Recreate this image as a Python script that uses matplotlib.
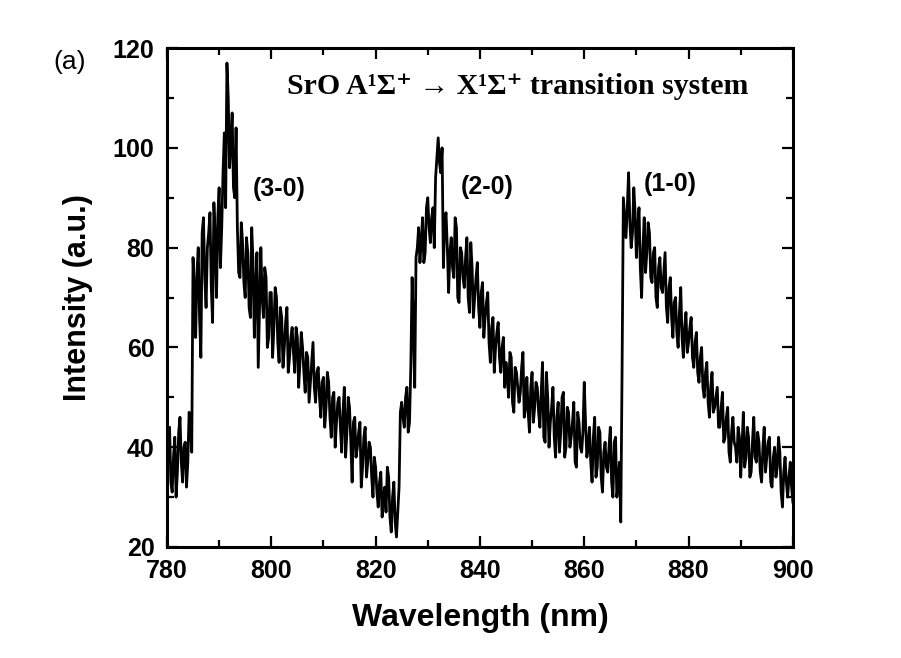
import numpy as np
import matplotlib.pyplot as plt

# SrO A-X emission spectrum.
# intensity: values at 780.0, 780.5, ... 900.0 nm
# intensity_mid: values in between, at 780.25, 780.75, ... 899.75 nm
wl_start = 780.0
wl_step = 0.25
intensity = [
    36, 44, 31, 42, 35, 46, 33, 41, 37, 45, 78, 62, 80, 58, 86, 68, 83, 72, 89, 70,
    92, 84, 103, 117, 96, 107, 90, 84, 74, 81, 70, 79, 66, 77, 72, 56, 80, 66, 74, 62,
    71, 64, 70, 57, 66, 60, 68, 58, 64, 55, 62, 57, 60, 51, 58, 53, 61, 49, 56, 46,
    54, 48, 53, 42, 51, 45, 50, 39, 52, 43, 48, 33, 46, 40, 45, 36, 44, 37, 40, 30,
    36, 28, 35, 30, 27, 34, 23, 33, 22, 32, 49, 44, 52, 45, 74, 52, 80, 77, 86, 79,
    90, 81, 88, 94, 102, 95, 76, 87, 71, 82, 74, 84, 69, 79, 72, 82, 67, 76, 70, 77,
    64, 73, 66, 71, 57, 66, 60, 65, 55, 62, 57, 50, 58, 47, 55, 49, 56, 46, 54, 43,
    55, 48, 52, 44, 57, 41, 50, 45, 52, 38, 49, 43, 51, 40, 47, 42, 49, 36, 45, 39,
    53, 38, 44, 33, 46, 36, 43, 31, 41, 35, 44, 30, 42, 33, 25, 90, 82, 95, 80, 92,
    78, 88, 70, 86, 79, 83, 73, 80, 68, 78, 71, 79, 65, 74, 62, 70, 60, 72, 58, 67,
    61, 66, 56, 63, 53, 60, 50, 57, 46, 55, 48, 52, 44, 51, 42, 48, 37, 46, 40, 44,
    34, 47, 38, 42, 35, 46, 37, 41, 33, 44, 38, 42, 32, 40, 36, 39, 28, 38, 30, 37, 29,
]
intensity_mid = [
    40, 33, 38, 30, 43, 37, 40, 32, 47, 39, 72, 75, 66, 83, 74, 80, 87, 65, 82, 86,
    76, 95, 88, 110, 101, 92, 104, 75, 85, 73, 82, 68, 84, 62, 79, 68, 70, 76, 60, 71,
    58, 72, 61, 68, 56, 65, 55, 62, 59, 64, 52, 63, 55, 59, 49, 57, 52, 55, 50, 53,
    44, 55, 46, 50, 40, 49, 44, 47, 38, 50, 41, 45, 38, 43, 32, 42, 34, 41, 34, 38,
    31, 33, 26, 32, 36, 26, 30, 25, 27, 47, 46, 50, 43, 56, 64, 78, 84, 81, 77, 88,
    84, 86, 80, 98, 97, 100, 85, 80, 79, 76, 86, 70, 80, 74, 78, 70, 81, 66, 74, 68,
    71, 62, 69, 61, 64, 55, 63, 58, 60, 52, 54, 59, 49, 56, 52, 51, 59, 48, 47, 52,
    45, 53, 47, 51, 42, 55, 40, 48, 42, 46, 39, 50, 38, 48, 40, 45, 37, 47, 40, 43,
    45, 40, 37, 42, 34, 44, 34, 39, 36, 40, 33, 41, 30, 37, 55, 86, 88, 85, 83, 87,
    84, 76, 80, 75, 85, 74, 79, 70, 76, 72, 75, 68, 72, 66, 69, 63, 67, 62, 64, 59,
    64, 58, 61, 55, 58, 52, 55, 49, 52, 47, 50, 44, 48, 41, 46, 39, 43, 41, 37, 42,
    40, 36, 44, 34, 41, 38, 43, 35, 40, 35, 41, 33, 38, 34, 42, 31, 35, 33, 34, 32,
]

spectrum = np.empty(len(intensity) + len(intensity_mid))
spectrum[0::2] = intensity
spectrum[1::2] = intensity_mid
wavelength = wl_start + wl_step * np.arange(len(spectrum))

band_labels = ['(3-0)', '(2-0)', '(1-0)']
band_pos = [(801.5, 91.7), (841.3, 92.1), (876.4, 92.7)]

sans = ['Liberation Sans', 'DejaVu Sans']

fig = plt.figure(figsize=(9.01, 6.58), dpi=100)
ax = fig.add_axes([0.1853, 0.1687, 0.6947, 0.7583])

ax.plot(wavelength, spectrum, color='black', lw=2.0)

ax.set_xlim(780, 900)
ax.set_ylim(20, 120)
ax.set_xticks(np.arange(780, 901, 20))
ax.set_xticks(np.arange(790, 900, 20), minor=True)
ax.set_yticks(np.arange(20, 121, 20))
ax.set_yticks(np.arange(30, 120, 20), minor=True)

for s in ax.spines.values():
    s.set_linewidth(2.2)
ax.tick_params(which='both', direction='in', top=True, right=True, width=1.6)
ax.tick_params(which='major', length=8)
ax.tick_params(which='minor', length=5)
ax.tick_params(axis='x', which='major', pad=9)
ax.tick_params(axis='y', which='major', pad=9)
for lab in ax.get_xticklabels() + ax.get_yticklabels():
    lab.set_fontfamily(sans)
    lab.set_fontweight('bold')
    lab.set_fontsize(18)

ax.set_xlabel('Wavelength (nm)', fontsize=23, fontweight='bold',
              family=sans, labelpad=14)
ax.set_ylabel('Intensity (a.u.)', fontsize=22, fontweight='bold',
              family=sans, labelpad=14)

for lab, (x, y) in zip(band_labels, band_pos):
    ax.text(x, y, lab, ha='center', va='center', fontsize=18,
            fontweight='bold', family=sans)

ax.text(847.3, 112.2, 'SrO A¹Σ⁺ → X¹Σ⁺ transition system', ha='center',
        va='center', fontsize=21.5, fontweight='bold',
        family=['Liberation Serif', 'DejaVu Serif'])

fig.text(0.077, 0.906, '(a)', ha='center', va='center', fontsize=19,
         family=sans)

fig.savefig('out.png', dpi=100)
